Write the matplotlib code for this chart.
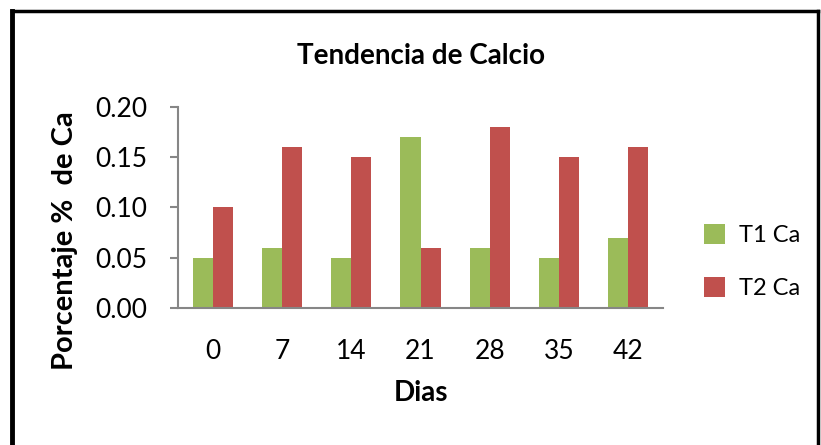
import matplotlib.pyplot as plt
from matplotlib.lines import Line2D
import numpy as np

plt.rcParams['font.family'] = ['Lato', 'DejaVu Sans']

# datos
dias = ['0', '7', '14', '21', '28', '35', '42']
t1_ca = [0.05, 0.06, 0.05, 0.17, 0.06, 0.05, 0.07]
t2_ca = [0.10, 0.16, 0.15, 0.06, 0.18, 0.15, 0.16]

fig = plt.figure(figsize=(8.21, 4.45), dpi=100)
ax = fig.add_axes([0.2168, 0.3079, 0.5908, 0.4517])

x = np.arange(len(dias))
w = 0.29
ax.bar(x - w/2, t1_ca, width=w, color='#9BBB59', label='T1 Ca')
ax.bar(x + w/2, t2_ca, width=w, color='#C0504D', label='T2 Ca')

ax.set_xlim(-0.5, len(dias) - 0.5)
ax.set_ylim(0, 0.20)
ax.set_yticks([0, 0.05, 0.10, 0.15, 0.20])
ax.set_yticklabels(['0.00', '0.05', '0.10', '0.15', '0.20'])
ax.set_xticks(x)
ax.set_xticklabels(dias)

for s in ['top', 'right']:
    ax.spines[s].set_visible(False)
for s in ['left', 'bottom']:
    ax.spines[s].set_color('#868686')
    ax.spines[s].set_linewidth(1.5)

ax.tick_params(axis='y', length=6, width=1.5, color='#868686', labelsize=19, pad=16)
ax.tick_params(axis='x', length=0, labelsize=19, pad=22)

ax.set_title('Tendencia de Calcio', fontsize=20, fontweight='bold', pad=31)
ax.set_xlabel('Dias', fontsize=20, fontweight='bold', labelpad=12)
ax.set_ylabel('Porcentaje %  de Ca', fontsize=21, fontweight='bold', va='center')
ax.yaxis.set_label_coords(-0.233, 0.333)

ax.legend(loc='center left', bbox_to_anchor=(1.04, 0.23), frameon=False,
          fontsize=17, labelspacing=1.3, handlelength=0.9, handleheight=0.9,
          handletextpad=0.6)

# marco
fig.add_artist(Line2D([0.0146, 0.0146], [0, 0.975], transform=fig.transFigure, color='black', lw=3.5))
fig.add_artist(Line2D([0.0146, 0.996], [0.975, 0.975], transform=fig.transFigure, color='black', lw=2.5))
fig.add_artist(Line2D([0.996, 0.996], [0, 0.975], transform=fig.transFigure, color='black', lw=2.5))

fig.savefig('out.png', dpi=100)
